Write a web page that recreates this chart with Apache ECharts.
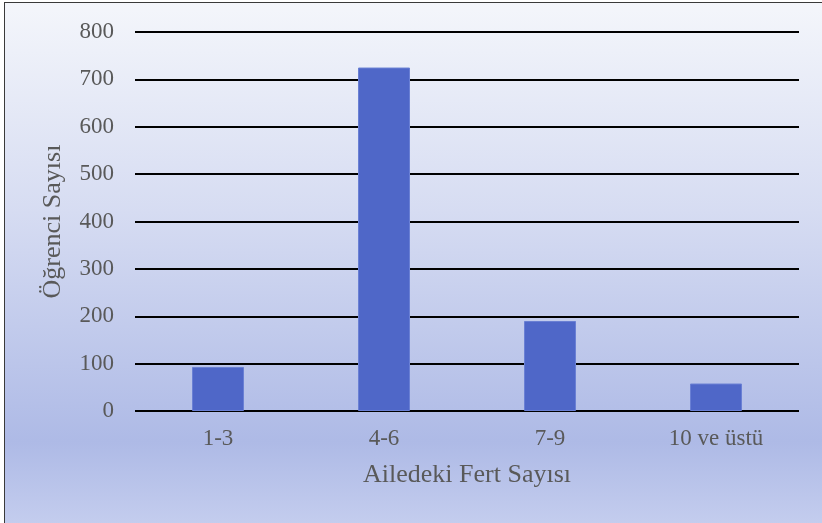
<!DOCTYPE html>
<html><head><meta charset="utf-8">
<script src="https://cdn.jsdelivr.net/npm/echarts@6/dist/echarts.min.js"></script>
<style>
html,body{margin:0;padding:0;background:#fff;}
#c{position:absolute;left:4px;top:2px;width:822px;height:524px;box-sizing:border-box;border:1.5px solid #3a3a3a;
background:linear-gradient(to bottom,#F4F6FB 0%,#D6DCF2 40%,#AEBAE6 84%,#C4CDEE 100%);}
#chart{position:absolute;left:0;top:0;width:822px;height:523px;}
</style></head>
<body>
<div id="c"></div>
<div id="chart"></div>
<script>
const categories = ['1-3', '4-6', '7-9', '10 ve üstü'];
const values = [93, 725, 190, 58];
const yTicks = [0, 100, 200, 300, 400, 500, 600, 700, 800];
const xName = 'Ailedeki Fert Sayısı';
const yName = 'Öğrenci Sayısı';

const chart = echarts.init(document.getElementById('chart'), null, {renderer: 'canvas'});
const font = '"Liberation Serif", "Times New Roman", serif';
chart.setOption({
  backgroundColor: 'transparent',
  animation: false,
  grid: {left: 135, right: 23, top: 32, bottom: 112, containLabel: false},
  xAxis: {
    type: 'category', data: categories,
    name: xName, nameLocation: 'middle', nameGap: 51,
    nameTextStyle: {fontFamily: font, fontSize: 26, color: '#595959'},
    axisLine: {show: false}, axisTick: {show: false},
    axisLabel: {fontFamily: font, fontSize: 23, color: '#595959', margin: 16}
  },
  yAxis: {
    type: 'value', min: yTicks[0], max: yTicks[yTicks.length - 1], interval: 100,
    name: yName, nameLocation: 'middle', nameGap: 69, nameRotate: 90,
    nameTextStyle: {fontFamily: font, fontSize: 26, color: '#595959'},
    axisLine: {show: false}, axisTick: {show: false},
    axisLabel: {fontFamily: font, fontSize: 23, color: '#595959', margin: 21},
    splitLine: {lineStyle: {color: '#000', width: 2}}
  },
  series: [{
    type: 'bar', data: values, barWidth: 52,
    itemStyle: {color: '#4F67C8', borderColor: '#6A80D4', borderWidth: 1}
  }]
});
</script>
</body></html>
